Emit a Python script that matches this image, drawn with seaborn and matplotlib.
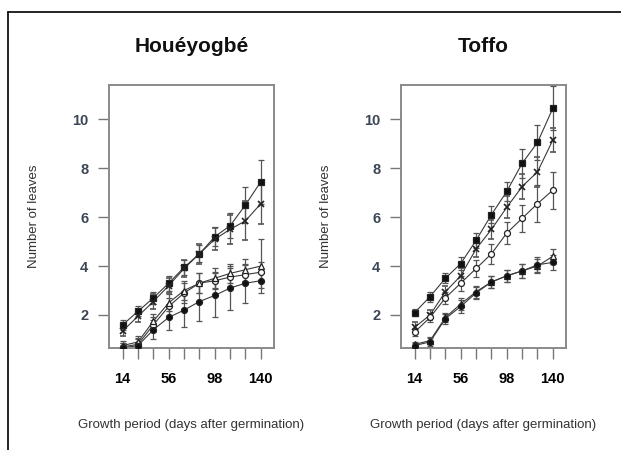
import matplotlib
matplotlib.use("Agg")
import matplotlib.pyplot as plt
from matplotlib.lines import Line2D
import pandas as pd
import seaborn as sns

# growth period (days after germination)
days = [14, 28, 42, 56, 70, 84, 98, 112, 126, 140]
day_labels = ["14", "", "", "56", "", "", "98", "", "", "140"]
treatments = ["T1", "T2", "T3", "T4", "T5"]
sites = ["Houéyogbé", "Toffo"]

# mean number of leaves, Houéyogbé
houe_t1 = [1.6, 2.15, 2.7, 3.3, 3.95, 4.5, 5.2, 5.65, 6.5, 7.45]
houe_t2 = [1.35, 1.95, 2.55, 3.2, 3.9, 4.5, 5.1, 5.5, 5.85, 6.55]
houe_t3 = [0.7, 0.8, 1.6, 2.35, 2.9, 3.3, 3.4, 3.55, 3.65, 3.75]
houe_t4 = [0.75, 0.9, 1.75, 2.5, 3.0, 3.3, 3.5, 3.7, 3.85, 4.0]
houe_t5 = [0.65, 0.75, 1.4, 1.9, 2.2, 2.55, 2.8, 3.1, 3.3, 3.4]
# standard deviations, Houéyogbé
houe_t1_sd = [0.2, 0.2, 0.25, 0.3, 0.3, 0.35, 0.4, 0.5, 0.75, 0.9]
houe_t2_sd = [0.2, 0.25, 0.3, 0.3, 0.35, 0.4, 0.45, 0.6, 0.8, 0.85]
houe_t3_sd = [0.15, 0.2, 0.3, 0.35, 0.4, 0.4, 0.35, 0.35, 0.4, 0.4]
houe_t4_sd = [0.2, 0.25, 0.3, 0.35, 0.4, 0.4, 0.4, 0.4, 0.45, 1.1]
houe_t5_sd = [0.2, 0.3, 0.4, 0.5, 0.7, 0.8, 0.9, 0.9, 0.8, 0.3]

# mean number of leaves, Toffo
toffo_t1 = [2.1, 2.75, 3.5, 4.1, 5.05, 6.1, 7.05, 8.2, 9.05, 10.45]
toffo_t2 = [1.5, 2.0, 2.95, 3.6, 4.7, 5.5, 6.4, 7.25, 7.85, 9.15]
toffo_t3 = [1.3, 1.9, 2.7, 3.3, 3.9, 4.5, 5.35, 5.95, 6.55, 7.1]
toffo_t4 = [0.8, 0.95, 1.9, 2.45, 2.95, 3.35, 3.6, 3.8, 4.0, 4.4]
toffo_t5 = [0.75, 0.9, 1.85, 2.35, 2.9, 3.35, 3.6, 3.8, 4.05, 4.15]
# standard deviations, Toffo
toffo_t1_sd = [0.15, 0.2, 0.2, 0.25, 0.3, 0.35, 0.4, 0.6, 0.7, 0.9]
toffo_t2_sd = [0.2, 0.2, 0.25, 0.3, 0.35, 0.4, 0.45, 0.5, 0.6, 0.5]
toffo_t3_sd = [0.15, 0.2, 0.25, 0.3, 0.35, 0.4, 0.45, 0.55, 0.75, 0.75]
toffo_t4_sd = [0.1, 0.15, 0.2, 0.25, 0.25, 0.25, 0.25, 0.3, 0.3, 0.3]
toffo_t5_sd = [0.1, 0.15, 0.2, 0.25, 0.25, 0.25, 0.25, 0.3, 0.3, 0.3]

means = {
    "Houéyogbé": [houe_t1, houe_t2, houe_t3, houe_t4, houe_t5],
    "Toffo": [toffo_t1, toffo_t2, toffo_t3, toffo_t4, toffo_t5],
}
sds = {
    "Houéyogbé": [houe_t1_sd, houe_t2_sd, houe_t3_sd, houe_t4_sd, houe_t5_sd],
    "Toffo": [toffo_t1_sd, toffo_t2_sd, toffo_t3_sd, toffo_t4_sd, toffo_t5_sd],
}

rows = []
for site in sites:
    for treatment, mean_values, sd_values in zip(treatments, means[site], sds[site]):
        for day, mean, sd in zip(days, mean_values, sd_values):
            rows.append({"site": site, "treatment": treatment, "day": day,
                         "leaves": mean, "sd": sd})
data = pd.DataFrame(rows)

# marker, filled?
marker_styles = {
    "T1": ("s", True),
    "T2": ("x", True),
    "T3": ("o", False),
    "T4": ("^", False),
    "T5": ("o", True),
}

sns.set_theme(style="white")
plt.rcParams["font.family"] = ["Liberation Sans", "DejaVu Sans"]

fig = plt.figure(figsize=(6.21, 4.5), dpi=100)
fig.patch.set_facecolor("white")
axes = [
    fig.add_axes([109 / 621, 102 / 450, 165 / 621, 263 / 450]),
    fig.add_axes([401 / 621, 102 / 450, 165 / 621, 263 / 450]),
]

for ax, site in zip(axes, sites):
    subset = data[data["site"] == site]
    sns.lineplot(
        data=subset, x="day", y="leaves", hue="treatment",
        palette=["#3a3a3a"] * len(treatments), linewidth=0.8,
        legend=False, ax=ax,
    )
    for treatment in treatments:
        series = subset[subset["treatment"] == treatment]
        marker, filled = marker_styles[treatment]
        ax.errorbar(
            series["day"], series["leaves"], yerr=series["sd"],
            fmt=marker, color="#222222", ecolor="#555555", elinewidth=0.9,
            capsize=2.5, capthick=0.9, markersize=4.3 if marker != "x" else 5,
            markeredgewidth=0.9 if marker != "x" else 1.2,
            markerfacecolor="#111111" if filled else "white", zorder=3,
        )
    ax.set_xlim(1.5, 152)
    ax.set_ylim(0.65, 11.4)
    ax.set_xticks(days)
    ax.set_xticklabels(day_labels, fontsize=10.5, fontweight="bold", color="black")
    ax.set_yticks([2, 4, 6, 8, 10])
    ax.set_yticklabels(["2", "4", "6", "8", "10"], fontsize=10.5,
                       fontweight="bold", color="#3c4656")
    ax.tick_params(axis="x", length=8, width=1.0, color="#777777",
                   direction="out", pad=9, bottom=True)
    ax.tick_params(axis="y", length=8, width=1.0, color="#777777",
                   direction="out", pad=7, left=True)
    for spine in ax.spines.values():
        spine.set_color("#8a8a8a")
        spine.set_linewidth(1.4)
    ax.set_title(site, fontsize=15, fontweight="bold", pad=24, color="#111111")
    ax.set_ylabel("Number of leaves", fontsize=9.5, color="#333333")
    ax.yaxis.set_label_coords(-0.418, 0.5)
    ax.set_xlabel("Growth period (days after germination)", fontsize=9.5,
                  color="#333333")
    ax.xaxis.set_label_coords(0.5, -0.27)
    ax.grid(False)

# frame lines of the original panel
fig.add_artist(Line2D([8 / 621, 1], [1 - 12 / 450, 1 - 12 / 450],
                      transform=fig.transFigure, color="black", linewidth=1.2))
fig.add_artist(Line2D([8 / 621, 8 / 621], [0, 1 - 12 / 450],
                      transform=fig.transFigure, color="black", linewidth=1.2))

fig.savefig("out.png", dpi=100)
plt.close(fig)
